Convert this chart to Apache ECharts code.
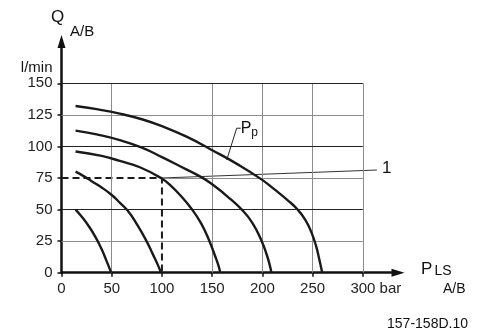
<!DOCTYPE html>
<html><head><meta charset="utf-8">
<script src="https://cdn.jsdelivr.net/npm/echarts@6/dist/echarts.min.js"></script>
<style>html,body{margin:0;padding:0;background:#fff}#c{width:486px;height:331px}</style>
</head><body><div id="c"></div>
<script>
// ---- data ----
const xTicks = [0, 50, 100, 150, 200, 250, 300];
const yTicks = [0, 25, 50, 75, 100, 125, 150];
const xNoGrid = [0, 100];          // no vertical grid line here (dashed marker instead)
const curveA = [[14,50],[20,44.5],[27,37],[34,28],[40,18.5],[45,9],[49.5,0]];
const curveB = [[14,80],[22,76.5],[30,72.5],[40,67.5],[50,61.5],[58,55.5],[66,49],[75,38.5],[84,26],[91,14.5],[96,6],[99,0]];
const curveC = [[14,96],[40,92.5],[58,88.5],[78,83.5],[99,75],[110,68],[118,61.5],[130,50],[139,39],[147,25.5],[153,13],[156.5,5],[158,0]];
const curveD = [[14,112.5],[35,109.5],[58,105],[80,99],[100,91.5],[120,83.5],[140,75.3],[150,70],[165,60.5],[180,49.5],[190,39.5],[199,25.5],[204,15],[207,7],[209,0]];
const curvePp = [[14,132],[35,129.5],[58,126],[80,121.5],[100,116],[125,107.5],[150,97],[175,86],[198,74.5],[212,66],[225,57.5],[235,50],[243,41.5],[249,31.5],[253.5,21],[256.5,11],[258.5,4],[259.5,0]];
const refPoint = [100, 75];
const leader1 = [[100,75],[314,81.3]];
const leaderPp = [[164.5,89.3],[174.4,114.4],[178.4,114.4]];

const FONT = '"Liberation Sans", Arial, sans-serif';
const chart = echarts.init(document.getElementById('c'), null, {renderer: 'canvas'});

const gridLines = [];
xTicks.forEach(x => {
  if (xNoGrid.indexOf(x) >= 0) return;
  gridLines.push([{coord:[x,0], lineStyle:{color:'#8c8c8c', width:1, type:'solid'}}, {coord:[x,150]}]);
});
yTicks.forEach(y => {
  if (y === 0) return;
  const x0 = (y === refPoint[1]) ? refPoint[0] : 0;
  const col = (y % 50 === 0) ? '#222' : '#8c8c8c';
  gridLines.push([{coord:[x0,y], lineStyle:{color:col, width:1, type:'solid'}}, {coord:[300,y]}]);
});

const curveStyle = {type:'line', smooth:0.5, symbol:'none', z:5, lineStyle:{color:'#1a1a1a', width:2.4}};

chart.setOption({
  animation: false,
  backgroundColor: '#fff',
  grid: {left: 61.5, right: 88, top: 41.6, bottom: 58.3, containLabel: false},
  xAxis: {
    type: 'value', min: 0, max: 335,
    axisLine: {show: true, symbol: ['none','triangle'], symbolSize: [8, 13], lineStyle: {color:'#111', width: 2.5}},
    axisTick: {show: true, customValues: xTicks, length: 4, lineStyle:{color:'#111', width:1.5}},
    axisLabel: {customValues: xTicks, margin: 9, color:'#222', fontFamily: FONT, fontSize: 15,
      formatter: v => v === 300 ? '{pad|}300 bar' : String(v),
      rich: {pad: {width: 26}}},
    splitLine: {show: false}
  },
  yAxis: {
    type: 'value', min: 0, max: 183,
    axisLine: {show: true, symbol: ['none','triangle'], symbolSize: [8, 13], lineStyle: {color:'#111', width: 2.5}},
    axisTick: {show: true, customValues: yTicks, length: 4, lineStyle:{color:'#111', width:1.5}},
    axisLabel: {customValues: yTicks, margin: 9, color:'#222', fontFamily: FONT, fontSize: 15},
    splitLine: {show: false}
  },
  series: [
    {type:'line', data: [], z:1, silent:true,
     markLine: {silent:true, symbol:'none', label:{show:false}, animation:false, data: gridLines}},
    Object.assign({}, curveStyle, {data: curveA}),
    Object.assign({}, curveStyle, {data: curveB}),
    Object.assign({}, curveStyle, {data: curveC}),
    Object.assign({}, curveStyle, {data: curveD}),
    Object.assign({}, curveStyle, {data: curvePp}),
    {type:'line', symbol:'none', z:4, data: [[0, refPoint[1]], refPoint, [refPoint[0], 0]],
     lineStyle:{color:'#1a1a1a', width:2, type:[7,4]}},
    {type:'line', symbol:'none', z:3, data: leader1, lineStyle:{color:'#333', width:1},
     endLabel: {show:true, formatter:'1', fontFamily: FONT, fontSize: 17, color:'#111', distance: 5, offset:[0,-2]}},
    {type:'line', symbol:'none', z:3, data: leaderPp, lineStyle:{color:'#222', width:1},
     endLabel: {show:true, formatter:'{P|P}{p|p}', distance: 0, offset:[0,0],
       rich: {P:{fontFamily: FONT, fontSize: 16, color:'#111'}, p:{fontFamily: FONT, fontSize: 12, color:'#111', padding:[9,0,0,0]}}}}
  ],
  graphic: [
    {type:'text', x:57.5, y:17, style:{text:'Q', font:'17px '+FONT, fill:'#111', textAlign:'center', textVerticalAlign:'middle'}},
    {type:'text', x:70, y:32, style:{text:'A/B', font:'15px '+FONT, fill:'#111', textAlign:'left', textVerticalAlign:'middle'}},
    {type:'text', x:52.5, y:68, style:{text:'l/min', font:'15px '+FONT, fill:'#111', textAlign:'right', textVerticalAlign:'middle'}},
    {type:'text', x:421, y:269.5, style:{text:'P', font:'17px '+FONT, fill:'#111', textAlign:'left', textVerticalAlign:'middle'}},
    {type:'text', x:434.5, y:271, style:{text:'LS', font:'14px '+FONT, fill:'#111', textAlign:'left', textVerticalAlign:'middle'}},
    {type:'text', x:443, y:289, style:{text:'A/B', font:'14px '+FONT, fill:'#111', textAlign:'left', textVerticalAlign:'middle'}},
    {type:'text', x:468, y:324, style:{text:'157-158D.10', font:'14px '+FONT, fill:'#111', textAlign:'right', textVerticalAlign:'middle'}}
  ]
});
</script>
</body></html>
